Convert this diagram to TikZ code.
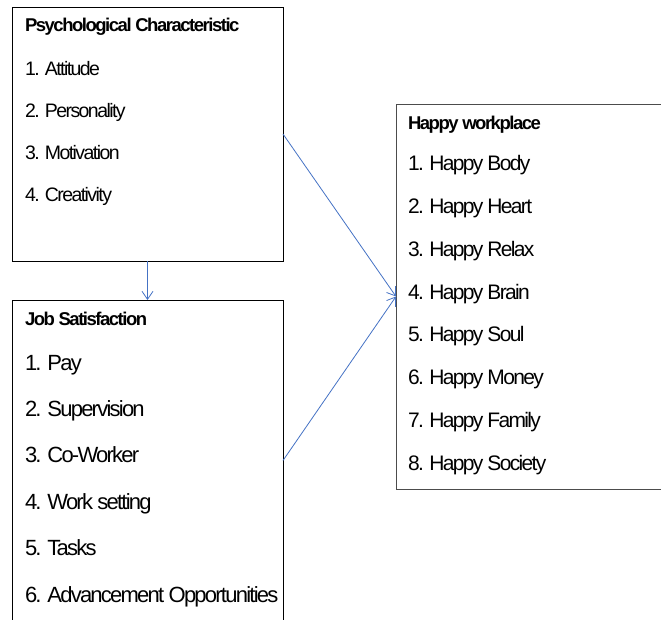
\documentclass[tikz,border=0pt]{standalone}
\usepackage{fontspec}
\setmainfont[LetterSpace=-8]{Liberation Sans}
\usetikzlibrary{arrows.meta}
\definecolor{arrowblue}{HTML}{4472C4}
\begin{document}
\begin{tikzpicture}[x=1pt,y=-1pt,
  boxa/.style={draw=black, line width=0.9pt, inner sep=0, outer sep=0},
  boxb/.style={draw=black!70, line width=0.9pt, inner sep=0, outer sep=0},
  txt/.style={anchor=base west, inner sep=0, outer sep=0},
  conn/.style={draw=arrowblue, line width=0.8pt, -{Straight Barb[length=8pt,width=11pt]}}]
\useasboundingbox (0,0) rectangle (661,620);
\clip (0,0) rectangle (661,620);
\node[boxa, minimum width=271pt, minimum height=254pt] (b1) at (147.5,134) {};
\node[boxa, minimum width=271pt, minimum height=321pt] (b2) at (147.5,460.5) {};
\node[boxb, minimum width=284pt, minimum height=385pt] (b3) at (538,296.5) {};
% box 1 texts
\node[txt, font=\fontsize{18.5}{22}\selectfont\bfseries] (t1) at (25,32) {Psychological Characteristic};
\node[txt, font=\fontsize{19.5}{24}\selectfont] (t1a) at (25,76) {1. Attitude};
\node[txt, font=\fontsize{19.5}{24}\selectfont] (t1b) at (25,118) {2. Personality};
\node[txt, font=\fontsize{19.5}{24}\selectfont] (t1c) at (25,160) {3. Motivation};
\node[txt, font=\fontsize{19.5}{24}\selectfont] (t1d) at (25,202) {4. Creativity};
% box 2 texts
\node[txt, font=\fontsize{18.5}{22}\selectfont\bfseries] (t2) at (25,325) {Job Satisfaction};
\node[txt, font=\fontsize{22}{26}\selectfont] (t2a) at (25,370) {1. Pay};
\node[txt, font=\fontsize{22}{26}\selectfont] (t2b) at (25,416.5) {2. Supervision};
\node[txt, font=\fontsize{22}{26}\selectfont] (t2c) at (25,462.8) {3. Co-Worker};
\node[txt, font=\fontsize{22}{26}\selectfont] (t2d) at (25,509) {4. Work setting};
\node[txt, font=\fontsize{22}{26}\selectfont] (t2e) at (25,555.5) {5. Tasks};
\node[txt, font=\fontsize{22}{26}\selectfont] (t2f) at (25,602) {6. Advancement Opportunities};
% box 3 texts
\node[txt, font=\fontsize{18.5}{23}\selectfont\bfseries] (t3) at (408,129.3) {Happy workplace};
\node[txt, font=\fontsize{21}{25}\selectfont] (t3a) at (408,171) {1. Happy Body};
\node[txt, font=\fontsize{21}{25}\selectfont] (t3b) at (408,214) {2. Happy Heart};
\node[txt, font=\fontsize{21}{25}\selectfont] (t3c) at (408,256.7) {3. Happy Relax};
\node[txt, font=\fontsize{21}{25}\selectfont] (t3d) at (408,299.3) {4. Happy Brain};
\node[txt, font=\fontsize{21}{25}\selectfont] (t3e) at (408,341.7) {5. Happy Soul};
\node[txt, font=\fontsize{21}{25}\selectfont] (t3f) at (408,384.3) {6. Happy Money};
\node[txt, font=\fontsize{21}{25}\selectfont] (t3g) at (408,427.3) {7. Happy Family};
\node[txt, font=\fontsize{21}{25}\selectfont] (t3h) at (408,470) {8. Happy Society};
% connectors
\draw[conn] (b1.south) -- (b2.north);
\draw[conn] (b1.east) -- (b3.west);
\draw[conn] (b2.east) -- (b3.west);
\end{tikzpicture}
\end{document}
